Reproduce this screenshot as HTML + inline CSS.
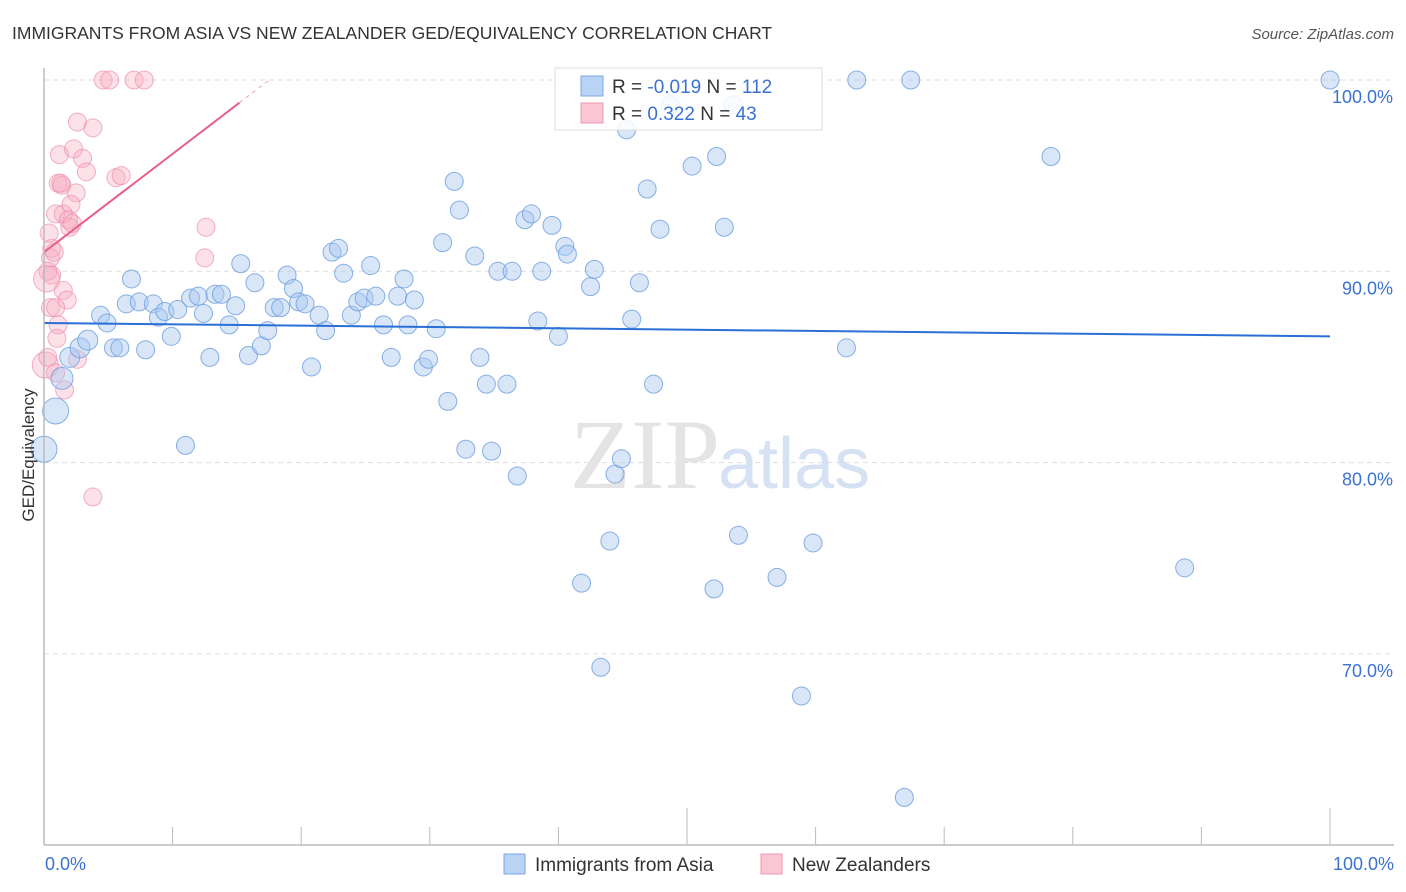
<!DOCTYPE html>
<html><head><meta charset="utf-8"><style>
body{margin:0;background:#fff;font-family:"Liberation Sans",sans-serif;}
svg{display:block}
</style></head><body>
<svg id="chart" width="1406" height="892" xmlns="http://www.w3.org/2000/svg">
<text x="12" y="39" font-size="17.5" fill="#333">IMMIGRANTS FROM ASIA VS NEW ZEALANDER GED/EQUIVALENCY CORRELATION CHART</text>
<text x="1394" y="39" font-size="15" fill="#555" text-anchor="end" font-style="italic">Source: ZipAtlas.com</text>
<g id="grid"></g>
<text x="720" y="488" font-size="100" font-family="Liberation Serif,serif" fill="#e4e4e4" text-anchor="end">ZIP</text>
<text x="718" y="488" font-size="72" fill="#d6e2f3">atlas</text>
<g id="pts"></g>
<g id="trends"></g>
<line x1="44" y1="68" x2="44" y2="845" stroke="#bbb" stroke-width="1.5"/>
<line x1="44" y1="845" x2="1394" y2="845" stroke="#bbb" stroke-width="1.5"/>
<g id="xticks"></g>
<text x="45" y="870" font-size="18" fill="#3b72d0">0.0%</text>
<text x="1394" y="870" font-size="18" fill="#3b72d0" text-anchor="end">100.0%</text>
<text transform="translate(34,455) rotate(-90)" font-size="17" fill="#333" text-anchor="middle">GED/Equivalency</text>
<g>
<rect x="555" y="68" width="267" height="62" fill="#fff" fill-opacity="0.85" stroke="#ddd"/>
<rect x="581" y="76" width="22" height="20" fill="#b9d3f5" stroke="#7aa6e6"/>
<rect x="581" y="103" width="22" height="20" fill="#fbc6d4" stroke="#ee9ab2"/>
<text x="612" y="93" font-size="19" fill="#333">R = <tspan fill="#3b72d0">-0.019</tspan>   N = <tspan fill="#3b72d0">112</tspan></text>
<text x="612" y="120" font-size="19" fill="#333">R =   <tspan fill="#3b72d0">0.322</tspan>   N =  <tspan fill="#3b72d0">43</tspan></text>
</g>
<g>
<rect x="504" y="854" width="21" height="20" fill="#b9d3f5" stroke="#7aa6e6"/>
<text x="535" y="871" font-size="19" fill="#333">Immigrants from Asia</text>
<rect x="761" y="854" width="21" height="20" fill="#fbc6d4" stroke="#ee9ab2"/>
<text x="792" y="871" font-size="19" fill="#333">New Zealanders</text>
</g>
</svg>
<script>
const yTicks=[100,90,80,70];
const yTickLabels=["100.0%","90.0%","80.0%","70.0%"];
const xTicks=[0,10,20,30,40,50,60,70,80,90,100];
const asiaX=[0,0.9,1.4,2.0,2.8,3.4,4.4,4.9,5.4,5.9,6.8,6.4,7.4,7.9,8.5,8.9,9.4,9.9,10.4,11.0,11.4,12.0,12.4,12.9,13.3,13.8,14.4,14.9,15.3,15.9,16.4,16.9,17.4,17.9,18.4,18.9,19.4,19.8,20.3,20.8,21.4,21.9,22.4,22.9,23.3,23.9,24.4,24.9,25.4,25.8,26.4,27.0,27.5,28.0,28.3,28.8,29.5,29.9,30.5,31.0,31.4,31.9,32.3,32.8,33.5,33.9,34.4,34.8,35.3,36.0,36.4,36.8,37.4,37.9,38.4,38.7,39.5,40.0,40.5,40.7,41.8,42.5,42.8,43.3,44.0,44.4,44.9,45.3,45.7,46.3,46.9,47.4,47.9,48.7,50.4,52.1,52.3,52.9,53.6,54.0,57.0,58.9,59.8,62.4,63.2,66.9,67.4,78.3,88.7,100];
const asiaY=[80.7,82.7,84.4,85.5,86.0,86.4,87.7,87.3,86.0,86.0,89.6,88.3,88.4,85.9,88.3,87.6,87.9,86.6,88.0,80.9,88.6,88.7,87.8,85.5,88.8,88.8,87.2,88.2,90.4,85.6,89.4,86.1,86.9,88.1,88.1,89.8,89.1,88.4,88.3,85.0,87.7,86.9,91.0,91.2,89.9,87.7,88.4,88.6,90.3,88.7,87.2,85.5,88.7,89.6,87.2,88.5,85.0,85.4,87.0,91.5,83.2,94.7,93.2,80.7,90.8,85.5,84.1,80.6,90.0,84.1,90.0,79.3,92.7,93.0,87.4,90.0,92.4,86.6,91.3,90.9,73.7,89.2,90.1,69.3,75.9,79.4,80.2,97.4,87.5,89.4,94.3,84.1,92.2,98.7,95.5,73.4,96.0,92.3,98.7,76.2,74.0,67.8,75.8,86.0,100,62.5,100,96.0,74.5,100];
const nzX=[4.6,5.1,7.0,7.8,2.6,3.8,1.2,2.3,3.0,3.3,1.1,1.4,2.5,5.6,6.0,0.9,1.5,2.1,1.9,2.0,12.6,12.5,0.6,0.5,0.3,0.6,1.5,1.8,0.5,0.9,1.1,0.1,0.9,1.6,2.6,3.8,0.2,1.3,0.4,0.8,2.2,1.0,0.3];
const nzY=[100,100,100,100,97.8,97.5,96.1,96.4,95.9,95.2,94.6,94.5,94.1,94.9,95.0,93.0,93.0,93.5,92.7,92.3,92.3,90.7,91.2,90.7,90.0,89.8,89.0,88.5,88.1,88.1,87.2,85.1,84.7,83.8,85.4,78.2,89.6,94.6,92.0,91.0,92.5,86.5,85.5];
const asiaTrend=[87.3,86.6];
const nzIntercept=91.0, nzSlope=0.514, nzSolidEnd=15.2;
const X=v=>44+v*12.86, Y=v=>80+(100-v)*19.13;
const NS="http://www.w3.org/2000/svg";
function mk(tag,attrs,parent){const e=document.createElementNS(NS,tag);for(const k in attrs)e.setAttribute(k,attrs[k]);parent.appendChild(e);return e;}
const grid=document.getElementById('grid');
yTicks.forEach((t,i)=>{
 const l=mk('line',{x1:44,x2:1394,y1:Y(t),y2:Y(t),stroke:'#ddd','stroke-dasharray':'5,4'},grid);
 
 
 const tx=mk('text',{x:1393,y:Y(t)+23,'font-size':18,fill:'#3b72d0','text-anchor':'end'},grid);
 tx.textContent=yTickLabels[i];
 
 
});
const xt=document.getElementById('xticks');
xTicks.forEach(t=>{
 const tall=(t===50||t===100);
 const l=mk('line',{x1:X(t),x2:X(t),y1:tall?808:827,y2:845,stroke:'#bbb'},xt);
 
 
});
const pts=document.getElementById('pts');
nzX.forEach((x,i)=>{
 const r=(x<0.3)?13:9;
 const c=mk('circle',{cx:X(x),cy:Y(nzY[i]),r:r,fill:'#f7a8c0','fill-opacity':0.35,stroke:'#ee8fac','stroke-opacity':0.7,'stroke-width':1},pts);
 
 
});
asiaX.forEach((x,i)=>{
 const r=i<2?13:(i<3?11:(i<6?10:9));
 const c=mk('circle',{cx:X(x),cy:Y(asiaY[i]),r:r,fill:'#a9c8f0','fill-opacity':0.45,stroke:'#6c9de0','stroke-opacity':0.8,'stroke-width':1},pts);
 
 
});
const tr=document.getElementById('trends');
const bl=mk('line',{x1:X(0),y1:Y(asiaTrend[0]),x2:X(100),y2:Y(asiaTrend[1]),stroke:'#2a6fd6','stroke-width':2},tr);


const pl=mk('line',{x1:X(0),y1:Y(nzIntercept),x2:X(nzSolidEnd),y2:Y(nzIntercept+nzSlope*nzSolidEnd),stroke:'#e8608a','stroke-width':2},tr);


const xEnd=(100-nzIntercept)/nzSlope;
const pd=mk('line',{x1:X(nzSolidEnd),y1:Y(nzIntercept+nzSlope*nzSolidEnd),x2:X(xEnd),y2:Y(100),stroke:'#f0a0b8','stroke-width':1,'stroke-dasharray':'4,4'},tr);


</script>
</body></html>
